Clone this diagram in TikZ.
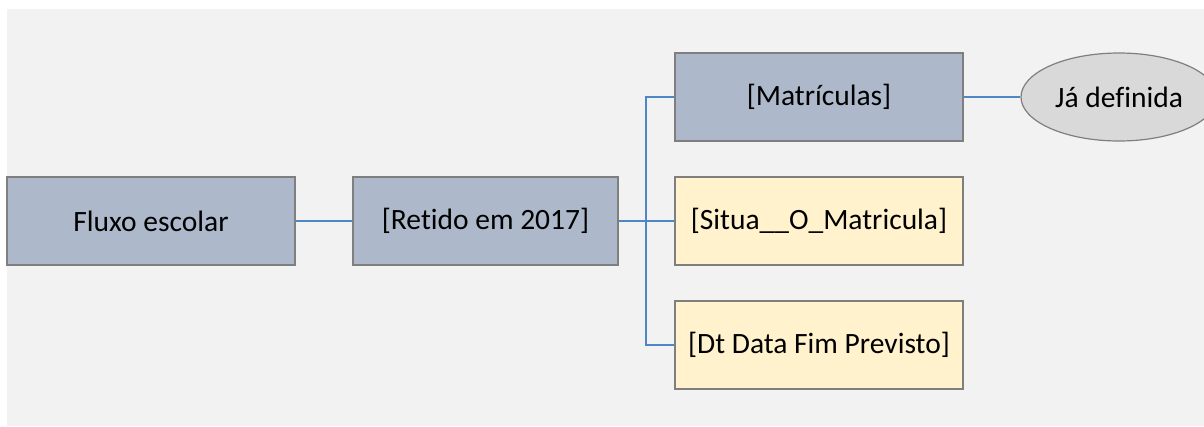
\documentclass[tikz,border=0pt]{standalone}
\usepackage{fontspec}
\setmainfont[Ligatures=NoCommon]{Carlito}
\usetikzlibrary{shapes.geometric}
\definecolor{bgc}{HTML}{F2F2F2}
\definecolor{bluebox}{HTML}{ADB9CA}
\definecolor{yellowbox}{HTML}{FFF2CC}
\definecolor{ellfill}{HTML}{D9D9D9}
\definecolor{edgec}{HTML}{7F7F7F}
\definecolor{linec}{HTML}{4F86C6}
\tikzset{
  box/.style={draw=edgec, line width=1.2pt, minimum width=288pt, minimum height=88pt, inner sep=0pt, font=\fontsize{29.5}{34}\selectfont},
  bluenode/.style={box, fill=bluebox},
  yellownode/.style={box, fill=yellowbox},
  ellnode/.style={ellipse, draw=edgec, line width=1.2pt, fill=ellfill, minimum width=196pt, minimum height=88pt, inner sep=0pt, font=\fontsize{29.5}{34}\selectfont},
  conn/.style={draw=linec, line width=2.5pt}
}
\begin{document}
\begin{tikzpicture}[x=1pt,y=-1pt]
\useasboundingbox (0,0) rectangle (1204,426);
\fill[bgc] (7,9) rectangle (1204,426);
\node[bluenode, minimum width=288pt] (flux) at (151,221) {Fluxo escolar};
\node[bluenode, minimum width=265pt] (ret) at (485.5,221) {[Retido em 2017]};
\node[bluenode] (mat) at (819,97) {[Matrículas]};
\node[yellownode] (sit) at (819,221) {[Situa\_\_O\_Matricula]};
\node[yellownode] (dt) at (819,345) {[Dt Data Fim Previsto]};
\node[ellnode] (ja) at (1119,97) {Já definida};
\coordinate (jn) at (646,221);
\draw[conn] (flux.east) -- (ret.west);
\draw[conn] (ret.east) -- (sit.west);
\draw[conn] (mat.west) -| (jn) |- (dt.west);
\draw[conn] (mat.east) -- (ja.west);
\end{tikzpicture}
\end{document}
